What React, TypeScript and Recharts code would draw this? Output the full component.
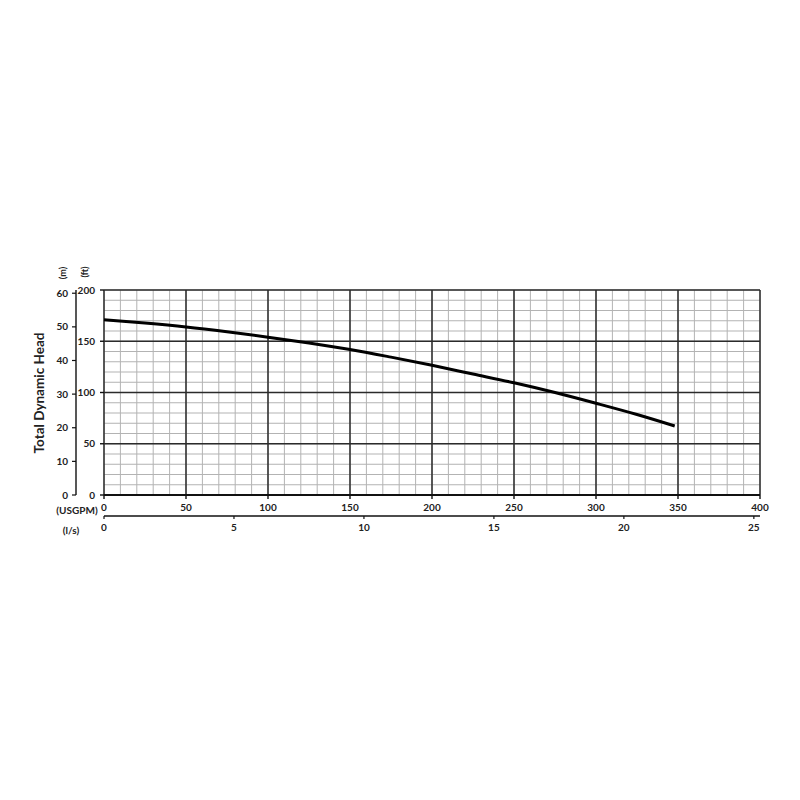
import { ComposedChart, Line, XAxis, YAxis, ReferenceLine } from 'recharts';

// pump curve (flow in USGPM, head in ft)
const flowGpm = [0, 25, 50, 75, 100, 125, 150, 175, 200, 225, 250, 275, 300, 325, 348];
const headFt = [171, 167.8, 164, 159.3, 154, 148.3, 142, 134.5, 126.5, 118, 109.5, 100, 89.5, 78.5, 67.3];

const gpmTicks = [0, 50, 100, 150, 200, 250, 300, 350, 400];
const gpmMinorTicks = [0, 10, 20, 30, 40, 50, 60, 70, 80, 90, 100, 110, 120, 130, 140, 150, 160, 170, 180, 190, 200, 210, 220, 230, 240, 250, 260, 270, 280, 290, 300, 310, 320, 330, 340, 350, 360, 370, 380, 390, 400];
const lpsTicks = [0, 5, 10, 15, 20, 25];
const ftTicks = [0, 50, 100, 150, 200];
const ftMinorTicks = [0, 10, 20, 30, 40, 50, 60, 70, 80, 90, 100, 110, 120, 130, 140, 150, 160, 170, 180, 190, 200];
const mTicks = [0, 10, 20, 30, 40, 50, 60];

const GPM_PER_LPS = 15.85;
const FT_PER_M = 3.2808;

const data = flowGpm.map((q, i) => ({ q, lps: q / GPM_PER_LPS, head: headFt[i] }));

const W = 784;
const H = 600;
const FONT = 'Lato, "Open Sans", sans-serif';
const tickStyle = { fontFamily: FONT, fontSize: 10, fontWeight: 700, fill: '#222' };

const MINOR = '#b3b3b3';
const MAJOR = '#2b2b2b';

export default function App() {
  return (
    <div style={{ position: 'relative', width: W, height: H }}>
      <ComposedChart
        width={W}
        height={H}
        data={data}
        margin={{ top: 282, right: 32, bottom: 62, left: 28 }}
      >
        <XAxis
          xAxisId="gpm"
          dataKey="q"
          type="number"
          domain={[0, 400]}
          ticks={gpmTicks}
          interval={0}
          height={21}
          tickSize={4}
          tickMargin={5}
          axisLine={{ stroke: '#111', strokeWidth: 2 }}
          tickLine={{ stroke: '#111', strokeWidth: 1.4 }}
          tick={tickStyle}
        />
        <XAxis
          xAxisId="lps"
          dataKey="lps"
          type="number"
          domain={[0, 400 / GPM_PER_LPS]}
          ticks={lpsTicks}
          interval={0}
          allowDataOverflow
          height={30}
          tickSize={3}
          tickMargin={5}
          axisLine={{ stroke: '#111', strokeWidth: 1.4 }}
          tickLine={{ stroke: '#111', strokeWidth: 1.2 }}
          tick={tickStyle}
        />

        <YAxis
          yAxisId="ft"
          type="number"
          domain={[0, 200]}
          ticks={ftTicks}
          interval={0}
          width={28}
          tickSize={4}
          tickMargin={5}
          axisLine={false}
          tickLine={{ stroke: '#111', strokeWidth: 1.4 }}
          tick={tickStyle}
        />
        <YAxis
          yAxisId="m"
          type="number"
          domain={[0, 200 / FT_PER_M]}
          ticks={mTicks}
          interval={0}
          allowDataOverflow
          width={40}
          tickSize={4}
          tickMargin={4}
          axisLine={{ stroke: '#111', strokeWidth: 1.4 }}
          tickLine={{ stroke: '#111', strokeWidth: 1.2 }}
          tick={tickStyle}
        />

        {/* minor grid, every 10 gpm / 10 ft */}
        {gpmMinorTicks.map((v) => (
          <ReferenceLine key={`mx${v}`} xAxisId="gpm" yAxisId="ft" x={v} stroke={MINOR} strokeWidth={1} />
        ))}
        {ftMinorTicks.map((v) => (
          <ReferenceLine key={`my${v}`} xAxisId="gpm" yAxisId="ft" y={v} stroke={MINOR} strokeWidth={1} />
        ))}
        {/* major grid, every 50 */}
        {gpmTicks.map((v) => (
          <ReferenceLine key={`Mx${v}`} xAxisId="gpm" yAxisId="ft" x={v} stroke={MAJOR} strokeWidth={1.5} />
        ))}
        {ftTicks.map((v) => (
          <ReferenceLine key={`My${v}`} xAxisId="gpm" yAxisId="ft" y={v} stroke={MAJOR} strokeWidth={1.5} />
        ))}

        <Line
          xAxisId="gpm"
          yAxisId="ft"
          dataKey="head"
          type="monotone"
          stroke="#000"
          strokeWidth={3}
          dot={false}
          activeDot={false}
          isAnimationActive={false}
        />
      </ComposedChart>

      {/* axis captions */}
      <svg
        width={W}
        height={H}
        style={{ position: 'absolute', left: 0, top: 0, pointerEvents: 'none' }}
      >
        <g fontFamily={FONT} fontWeight={700} fill="#222">
          <text x={31} y={385} fontSize={13.5} textAnchor="middle" dominantBaseline="central" transform="rotate(-90 31 385)">
            Total Dynamic Head
          </text>
          <text x={54} y={265} fontSize={9} textAnchor="middle" dominantBaseline="central" transform="rotate(-90 54 265)">
            (m)
          </text>
          <text x={76} y={264} fontSize={9} textAnchor="middle" dominantBaseline="central" transform="rotate(-90 76 264)">
            (ft)
          </text>
          <text x={69} y={502} fontSize={10} textAnchor="middle" dominantBaseline="central">
            (USGPM)
          </text>
          <text x={63} y={522} fontSize={10} textAnchor="middle" dominantBaseline="central">
            (l/s)
          </text>
        </g>
      </svg>
    </div>
  );
}
